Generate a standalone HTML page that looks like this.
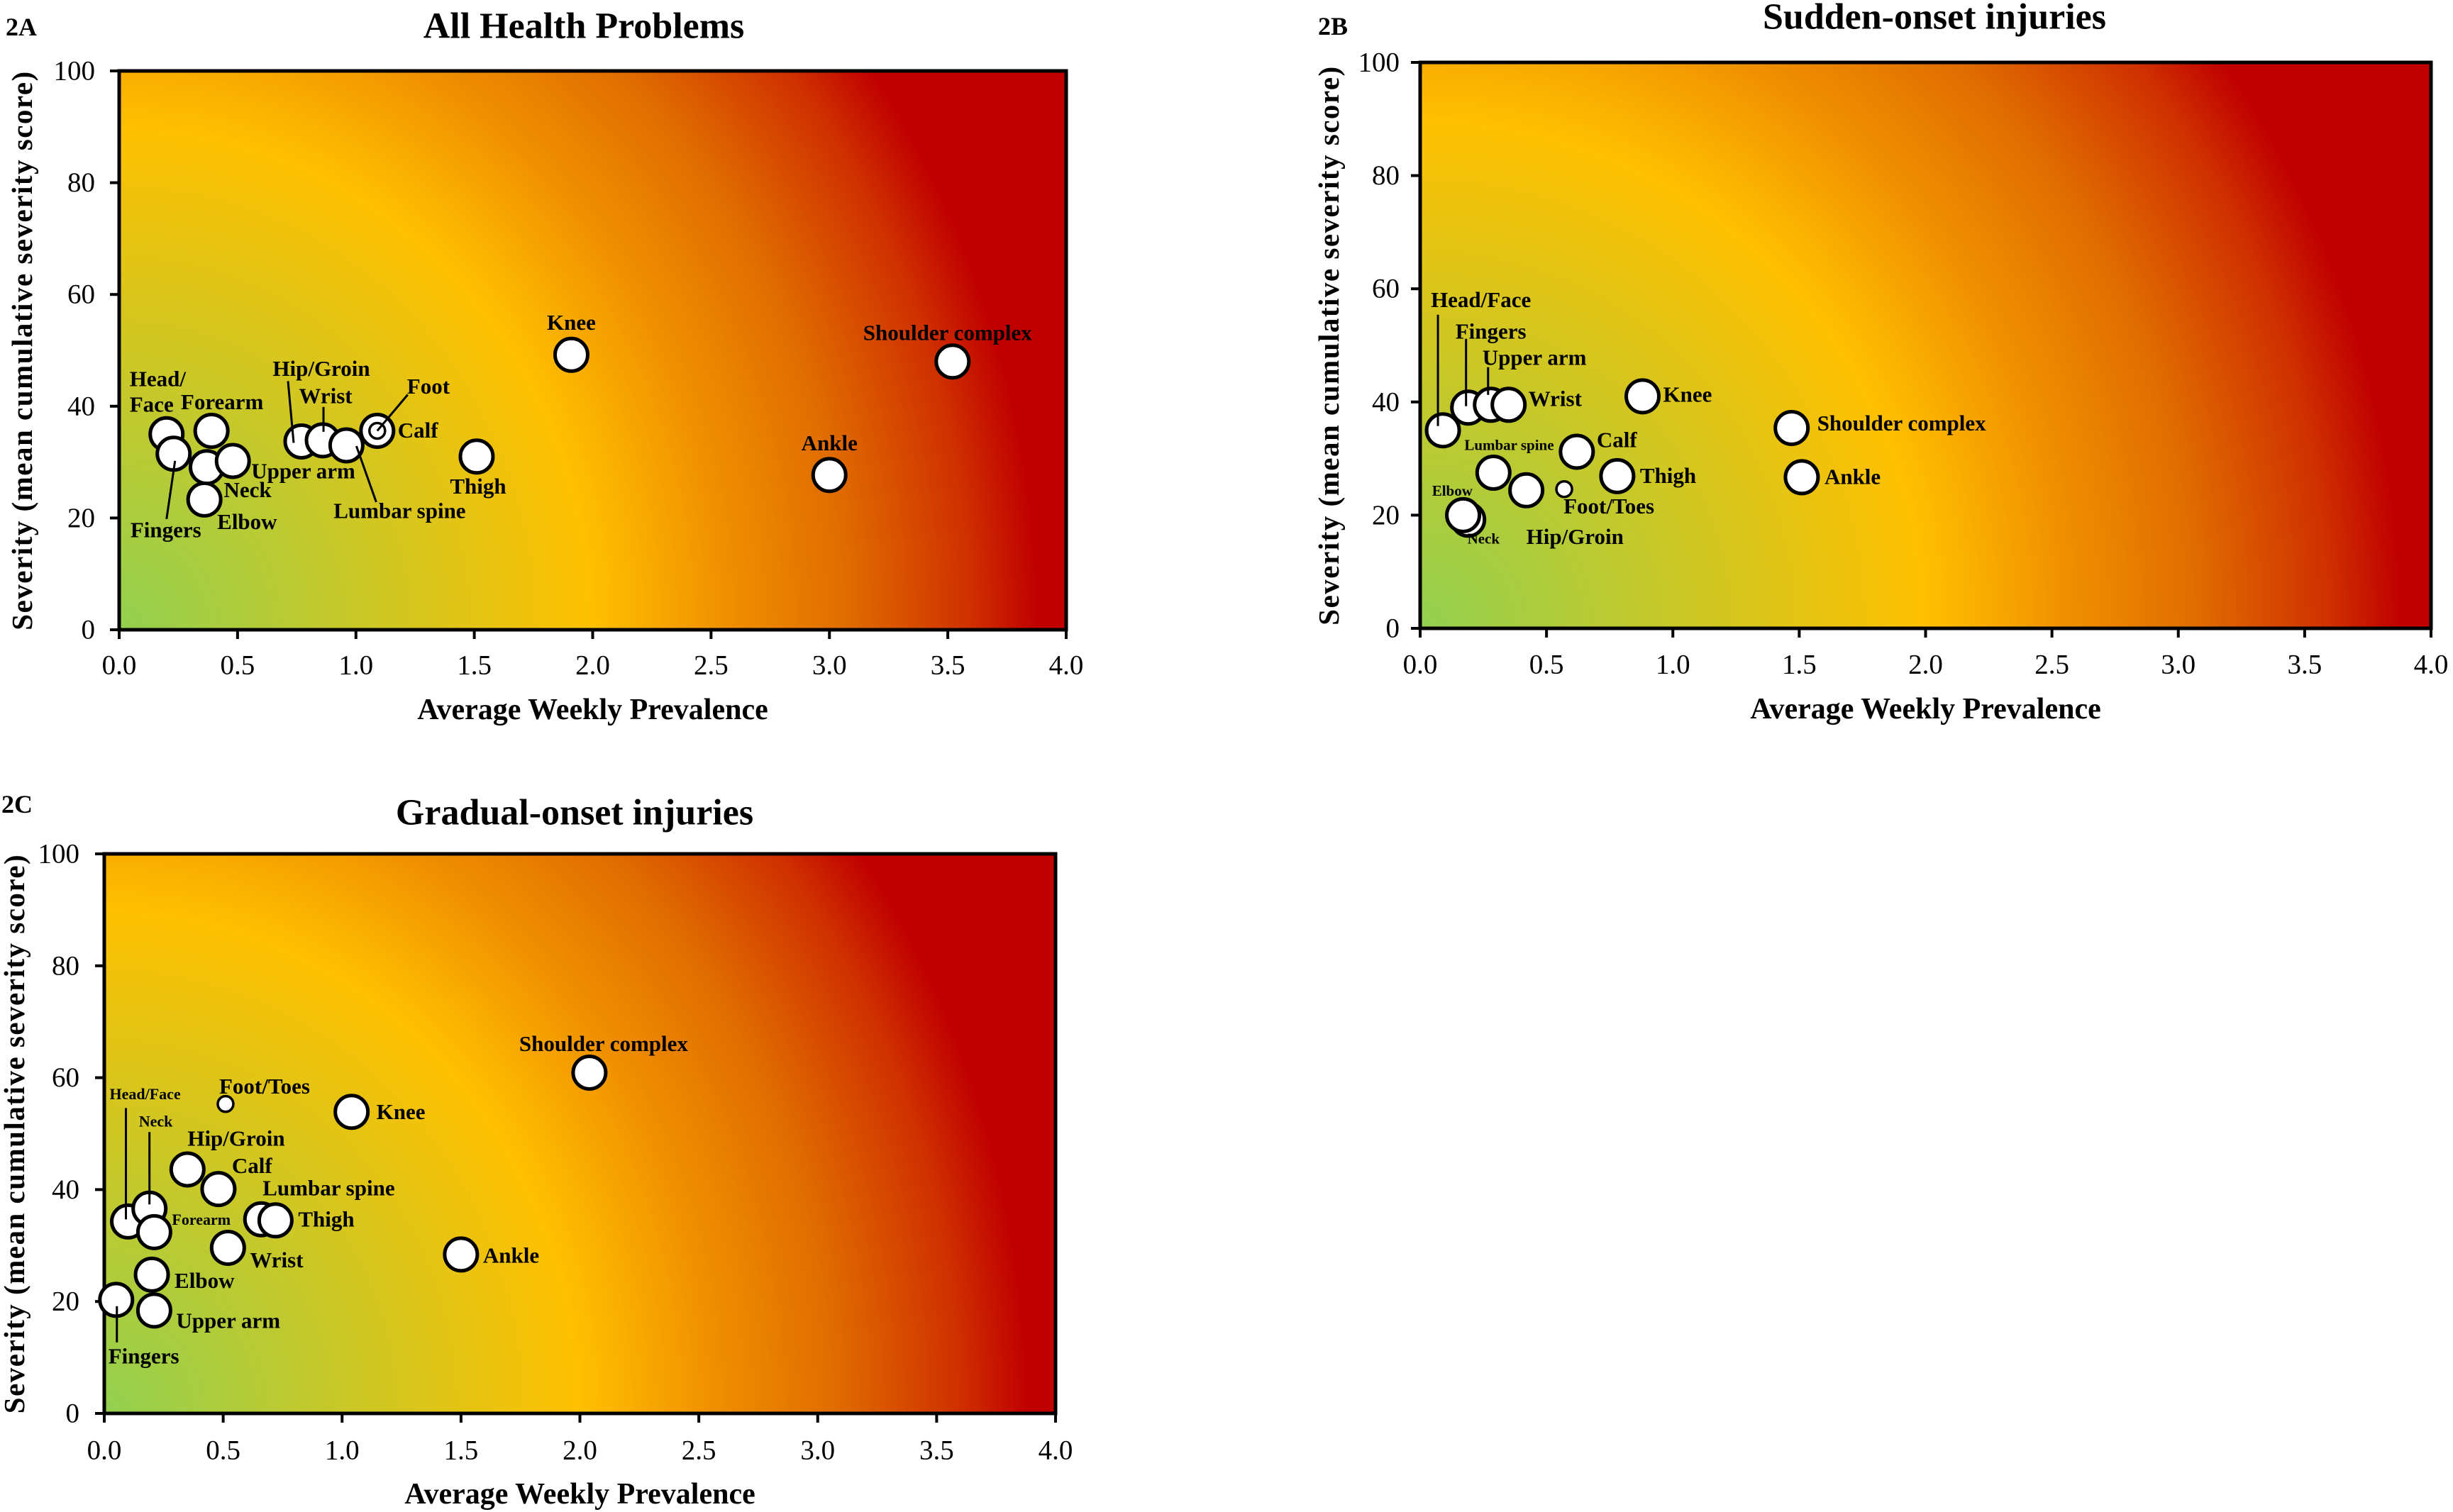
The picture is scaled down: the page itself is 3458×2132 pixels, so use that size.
<!DOCTYPE html>
<html><head><meta charset="utf-8">
<style>
html,body{margin:0;padding:0;background:#fff;}
svg{display:block;font-family:"Liberation Serif",serif;}
</style></head>
<body>
<svg id="chart" width="3458" height="2132" viewBox="0 0 3458 2132" xmlns="http://www.w3.org/2000/svg">
<defs>
<radialGradient id="risk" cx="0" cy="1" r="1" fx="0" fy="1" gradientTransform="translate(0,1) scale(1,1.8) translate(0,-1)">
<stop offset="0" stop-color="#92D050"/>
<stop offset="0.5" stop-color="#FFC000"/>
<stop offset="0.64" stop-color="#F09000"/>
<stop offset="0.77" stop-color="#E06C00"/>
<stop offset="0.9" stop-color="#CF3000"/>
<stop offset="0.97" stop-color="#C00000"/>
<stop offset="1" stop-color="#C00000"/>
</radialGradient>
</defs>
</svg>
<script>
// ---- Panel A data ----
const namesA = ["Head/Face","Fingers","Forearm","Neck","Upper arm","Elbow","Hip/Groin","Wrist","Lumbar spine","Calf","Foot","Thigh","Knee","Shoulder complex","Ankle"];
const prevA  = [0.20,0.23,0.39,0.37,0.48,0.36,0.77,0.86,0.96,1.09,1.09,1.51,1.91,3.52,3.00];
const sevA   = [35.0,31.5,35.6,29.1,30.2,23.3,33.7,33.9,33.0,35.6,35.6,31.0,49.2,48.0,27.7];
const smallA = ["Foot"];
// ---- Panel B data ----
const namesB = ["Head/Face","Fingers","Upper arm","Wrist","Knee","Shoulder complex","Calf","Lumbar spine","Thigh","Ankle","Hip/Groin","Foot/Toes","Elbow","Neck"];
const prevB  = [0.09,0.19,0.28,0.35,0.88,1.47,0.62,0.29,0.78,1.51,0.42,0.57,0.19,0.17];
const sevB   = [35.0,39.0,39.5,39.5,41.0,35.4,31.2,27.5,26.9,26.7,24.4,24.6,19.2,20.0];
const smallB = ["Foot/Toes"];
// ---- Panel C data ----
const namesC = ["Head/Face","Neck","Forearm","Fingers","Upper arm","Elbow","Hip/Groin","Calf","Foot/Toes","Knee","Lumbar spine","Thigh","Wrist","Ankle","Shoulder complex"];
const prevC  = [0.10,0.19,0.21,0.05,0.21,0.20,0.35,0.48,0.51,1.04,0.66,0.72,0.52,1.50,2.04];
const sevC   = [34.3,36.6,32.4,20.3,18.4,24.8,43.6,40.1,55.3,53.9,34.7,34.5,29.6,28.4,60.9];
const smallC = ["Foot/Toes"];
// ---- Axes ----
const xTicks = [0,0.5,1,1.5,2,2.5,3,3.5,4];
const yTicks = [0,20,40,60,80,100];

const layA = {
 "Head/Face":[["Head/","Face"],-52,-78,"start",31,null,36],
 "Fingers":[["Fingers"],-11,107,"middle",31,[2,10,-10,92]],
 "Forearm":[["Forearm"],15,-41,"middle",31,null],
 "Neck":[["Neck"],24,32,"start",31,null],
 "Upper arm":[["Upper arm"],26,14,"start",31,null],
 "Elbow":[["Elbow"],18,31,"start",31,null],
 "Hip/Groin":[["Hip/Groin"],28,-103,"middle",31,[-11,2,-19,-85]],
 "Wrist":[["Wrist"],4,-63,"middle",31,[1,-12,1,-47]],
 "Lumbar spine":[["Lumbar spine"],75,92,"middle",31,[14,1,42,80]],
 "Calf":[["Calf"],29,-1,"start",31,null],
 "Foot":[["Foot"],42,-63,"start",31,[0,0,43,-51]],
 "Thigh":[["Thigh"],2,42,"middle",31,null],
 "Knee":[["Knee"],0,-46,"middle",31,null],
 "Shoulder complex":[["Shoulder complex"],-7,-41,"middle",31,null],
 "Ankle":[["Ankle"],0,-45,"middle",31,null]
};
const layB = {
 "Head/Face":[["Head/Face"],-17,-184,"start",31,[-7,-6,-7,-163]],
 "Fingers":[["Fingers"],-18,-108,"start",31,[-3,-2,-3,-97]],
 "Upper arm":[["Upper arm"],-12,-67,"start",31,[-4,-14,-4,-53]],
 "Wrist":[["Wrist"],28,-9,"start",31,null],
 "Knee":[["Knee"],29,-3,"start",31,null],
 "Shoulder complex":[["Shoulder complex"],36,-7,"start",31,null],
 "Calf":[["Calf"],28,-17,"start",31,null],
 "Lumbar spine":[["Lumbar spine"],-41,-39,"start",21,null],
 "Thigh":[["Thigh"],32,-1,"start",31,null],
 "Ankle":[["Ankle"],32,-1,"start",31,null],
 "Hip/Groin":[["Hip/Groin"],0,65,"start",31,null],
 "Foot/Toes":[["Foot/Toes"],-1,24,"start",31,null],
 "Elbow":[["Elbow"],-51,-41,"start",21,null],
 "Neck":[["Neck"],6,33,"start",21,null]
};
const layC = {
 "Head/Face":[["Head/Face"],-26,-180,"start",22,[-3,-3,-3,-160]],
 "Neck":[["Neck"],-15,-123,"start",22,[0,-6,0,-108]],
 "Forearm":[["Forearm"],25,-18,"start",22,null],
 "Fingers":[["Fingers"],-11,79,"start",31,[1,9,1,60]],
 "Upper arm":[["Upper arm"],31,14,"start",31,null],
 "Elbow":[["Elbow"],32,8,"start",31,null],
 "Hip/Groin":[["Hip/Groin"],0,-44,"start",31,null],
 "Calf":[["Calf"],19,-33,"start",31,null],
 "Foot/Toes":[["Foot/Toes"],-9,-25,"start",31,null],
 "Knee":[["Knee"],35,0,"start",31,null],
 "Lumbar spine":[["Lumbar spine"],2,-44,"start",31,null],
 "Thigh":[["Thigh"],32,-2,"start",31,null],
 "Wrist":[["Wrist"],31,17,"start",31,null],
 "Ankle":[["Ankle"],31,1,"start",31,null],
 "Shoulder complex":[["Shoulder complex"],20,-41,"middle",31,null]
};

const NS = "http://www.w3.org/2000/svg";
const svg = document.getElementById("chart");
function mk(tag, attrs, parent){const e=document.createElementNS(NS,tag);for(const k in attrs)e.setAttribute(k,attrs[k]);(parent||svg).appendChild(e);return e;}

function panel(cfg){
  const g = mk("g",{});
  
  
  const L=cfg.L,R=cfg.R,T=cfg.T,B=cfg.B;
  const sx = v => L + v/4*(R-L);
  const sy = v => B - v/100*(B-T);
  const bg = mk("rect",{x:L,y:T,width:R-L,height:B-T,fill:"url(#risk)",stroke:"#000","stroke-width":5},g);
  
  
  xTicks.forEach(v=>{
    const tk = mk("line",{x1:sx(v),x2:sx(v),y1:B,y2:B+13,stroke:"#000","stroke-width":4},g);
    
    
    const t = mk("text",{x:sx(v),y:cfg.xtY,"font-size":39,"text-anchor":"middle","dominant-baseline":"central"},g);
    t.textContent = v.toFixed(1);
    
    
  });
  yTicks.forEach(v=>{
    const tk = mk("line",{x1:L-13,x2:L,y1:sy(v),y2:sy(v),stroke:"#000","stroke-width":4},g);
    
    
    const t = mk("text",{x:cfg.ytX,y:sy(v),"font-size":39,"text-anchor":"end","dominant-baseline":"central"},g);
    t.textContent = String(v);
    
    
  });
  const xt = mk("text",{x:(L+R)/2,y:cfg.xTitleY,"font-size":42,"font-weight":"bold","text-anchor":"middle","dominant-baseline":"central"},g);
  xt.textContent="Average Weekly Prevalence";
  
  
  const yt = mk("text",{x:0,y:0,"font-size":41,"font-weight":"bold","text-anchor":"middle","dominant-baseline":"central","letter-spacing":1.5,transform:`translate(${cfg.yTitleX},${(T+B)/2}) rotate(-90)`},g);
  yt.textContent="Severity (mean cumulative severity score)";
  
  
  const tt = mk("text",{x:cfg.titleX,y:cfg.titleY,"font-size":52,"font-weight":"bold","text-anchor":"middle","dominant-baseline":"central"},g);
  tt.textContent=cfg.title;
  
  
  const pl = mk("text",{x:cfg.tagX,y:cfg.tagY,"font-size":36,"font-weight":"bold","dominant-baseline":"central"},g);
  pl.textContent=cfg.tag;
  
  
  const order = cfg.names.map((n,i)=>i).sort((a,b)=>(cfg.small.includes(cfg.names[a])?1:0)-(cfg.small.includes(cfg.names[b])?1:0));
  order.forEach(i=>{
    const small = cfg.small.includes(cfg.names[i]);
    const c = mk("circle",{cx:sx(cfg.x[i]),cy:sy(cfg.y[i]),r:small?11:23,fill:"#fff",stroke:"#000","stroke-width":small?3.5:5},g);
    
    
  });
  cfg.names.forEach((n,i)=>{
    const lay = cfg.lay[n]; if(!lay) return;
    const px = sx(cfg.x[i]), py = sy(cfg.y[i]);
    if(lay[5]){
      const ld = mk("line",{x1:px+lay[5][0],y1:py+lay[5][1],x2:px+lay[5][2],y2:py+lay[5][3],stroke:"#000","stroke-width":3},g);
      
      
    }
    lay[0].forEach((line,k)=>{
      const t = mk("text",{x:px+lay[1],y:py+lay[2]+k*(lay[6]||0),"font-size":lay[4],"font-weight":"bold","text-anchor":lay[3],"dominant-baseline":"central"},g);
      t.textContent=line;
      
      
    });
  });
}

panel({id:"panel-2a",L:168,R:1503,T:100,B:888,xtY:938,ytX:134,xTitleY:1001,yTitleX:31,titleX:823,titleY:37,title:"All Health Problems",tagX:8,tagY:38,tag:"2A",names:namesA,x:prevA,y:sevA,small:smallA,lay:layA});
panel({id:"panel-2b",L:2002,R:3427,T:88,B:886,xtY:937,ytX:1973,xTitleY:1000,yTitleX:1873,titleX:2727,titleY:24,title:"Sudden-onset injuries",tagX:1858,tagY:37,tag:"2B",names:namesB,x:prevB,y:sevB,small:smallB,lay:layB});
panel({id:"panel-2c",L:147,R:1488,T:1204,B:1993,xtY:2045,ytX:112,xTitleY:2107,yTitleX:20,titleX:810,titleY:1146,title:"Gradual-onset injuries",tagX:2,tagY:1134,tag:"2C",names:namesC,x:prevC,y:sevC,small:smallC,lay:layC});
</script>
</body></html>
